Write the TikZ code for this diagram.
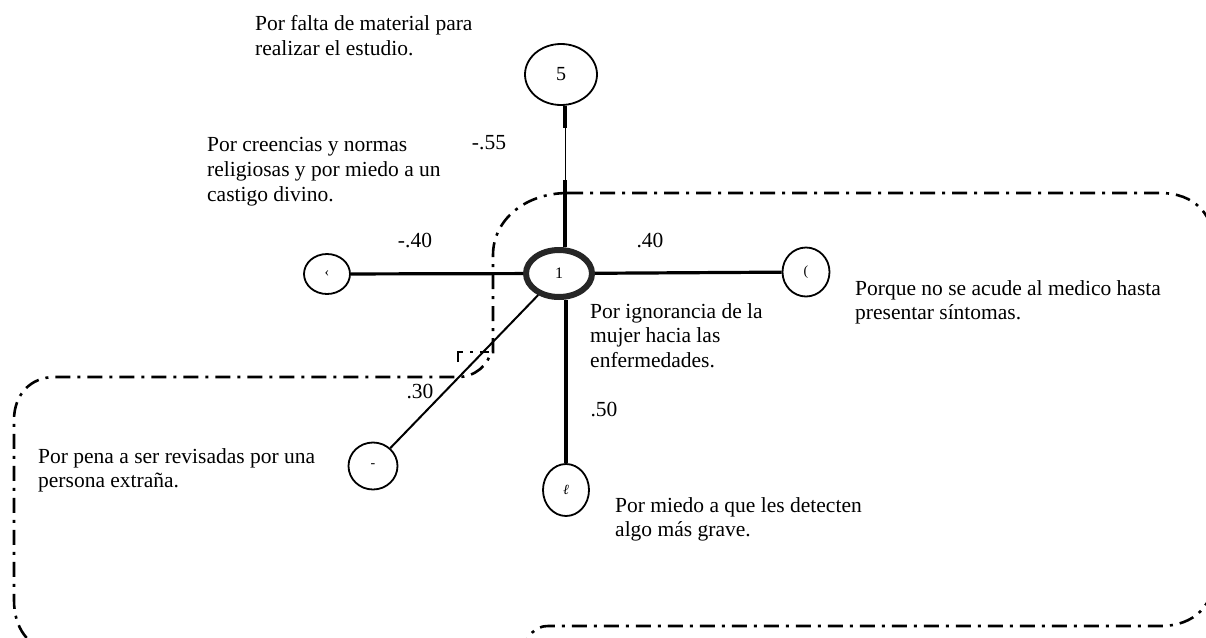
\documentclass[tikz,border=0pt]{standalone}
\usepackage{fontspec}
\setmainfont{Liberation Serif}
\usetikzlibrary{arrows,shapes}
\tikzstyle{vertex}=[ellipse,draw,line width=1.8pt,inner sep=0pt,font=\fontsize{14}{14}\selectfont]
\tikzstyle{main vertex}=[vertex,line width=6pt,draw=black!85,font=\fontsize{16}{16}\selectfont]
\tikzstyle{spoke}=[draw,line width=3.2pt]
\tikzstyle{thin spoke}=[draw,line width=2pt]
\tikzstyle{weight}=[font=\fontsize{21.5}{24.8}\selectfont,inner sep=0pt]
\tikzstyle{reason}=[weight,align=left,anchor=north west]
\tikzstyle{region}=[draw,line width=2.6pt,dash pattern=on 15pt off 7pt on 3pt off 7pt]
\newcommand{\bignum}{\fontsize{20}{20}\selectfont}

\begin{document}
\begin{tikzpicture}[x=1pt,y=-1pt]
    \clip (0,0) rectangle (1206,637);
    % dash-dot outline
    \path[region] (568,193) -- (1160,193) .. controls (1195,193) and (1215,215) .. (1215,250)
        -- (1215,570) .. controls (1215,605) and (1195,626) .. (1160,626) -- (548,626)
        .. controls (535,626) and (528,635) .. (522,650) -- (45,650)
        .. controls (30,645) and (14,630) .. (14,600) -- (14,420)
        .. controls (14,395) and (30,377) .. (55,377) -- (458,377)
        .. controls (475,377) and (488,365) .. (491,352) -- (493,352) -- (493,255)
        .. controls (493,220) and (525,193) .. (568,193);
    \path[region] (458,362) -- (458,352) -- (489,352);
    % vertices
    \node[main vertex,minimum width=66pt,minimum height=47pt] (1) at (559,273.5) {1};
    \foreach \pos/\name/\w/\h/\txt in {{(561,74.5)/5/72/61/{\bignum 5}}, {(327,274)/2/46/40/‹},
        {(806,272)/3/47/49/(}, {(373,466)/4/49/47/-}, {(566,490)/6/46/52/\textit{ℓ}}}
        \node[vertex,minimum width=\w pt,minimum height=\h pt] (\name) at \pos {\txt};
    % spokes
    \coordinate (a) at (565,128);
    \coordinate (b) at (565,180);
    \path[spoke] (a |- 5.south) -- (a);
    \path[draw,line width=1pt] (a) -- (b);
    \path[spoke] (b) -- (b |- 1.north);
    \foreach \source/\dest in {2/1,1/3}
        \path[spoke] (\source) -- (\dest);
    \path[spoke] (6.north |- 1.south) -- (6);
    \path[thin spoke] (1) -- (4);
    % weights
    \foreach \pos/\name/\txt in {{(489,143)/w5/-.55}, {(415,240)/w2/-.40}, {(650,240)/w3/.40},
        {(420,391)/w4/.30}, {(604,409)/w6/.50}}
        \node[weight] (\name) at \pos {\txt};
    % reasons
    \foreach \pos/\name/\txt in {
        {(255,15)/r5/{Por falta de material para\\realizar el estudio.}},
        {(207,137)/r2/{Por creencias y normas\\religiosas y por miedo a un\\castigo divino.}},
        {(590,303)/r1/{Por ignorancia de la\\mujer hacia las\\enfermedades.}},
        {(855,280)/r3/{Porque no se acude al medico hasta\\presentar síntomas.}},
        {(38,448)/r4/{Por pena a ser revisadas por una\\persona extraña.}},
        {(615,497)/r6/{Por miedo a que les detecten\\algo más grave.}}}
        \node[reason] (\name) at \pos {\txt};
\end{tikzpicture}
\end{document}
